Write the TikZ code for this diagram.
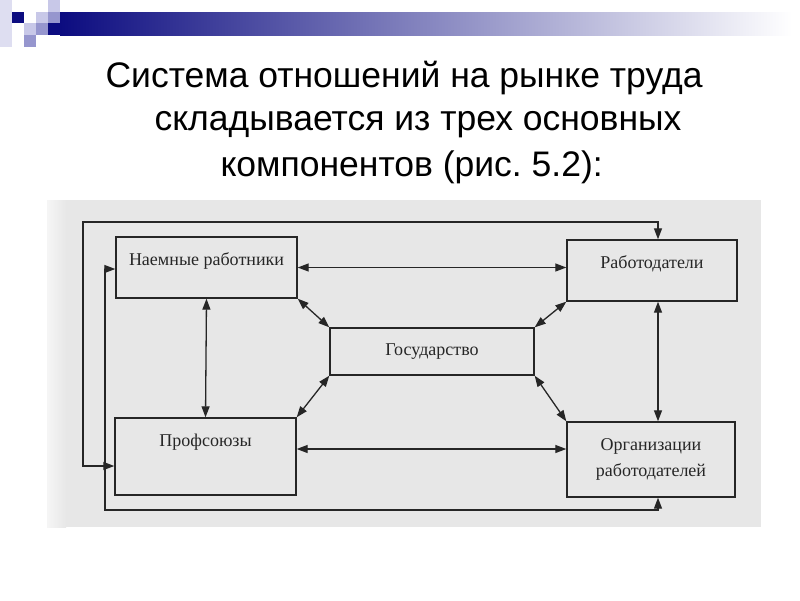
\documentclass[tikz,border=0pt]{standalone}
\usepackage{fontspec}
\setmainfont{Liberation Serif}
\newfontfamily\titlefont{Liberation Sans}
\usetikzlibrary{arrows.meta, calc}
\frenchspacing

\definecolor{navy}{RGB}{12,12,128}
\definecolor{lilac}{RGB}{200,200,232}
\definecolor{violet}{RGB}{150,150,206}
\definecolor{scan}{RGB}{231,231,231}
\definecolor{ink}{RGB}{38,38,38}

\begin{document}
\begin{tikzpicture}[x=1pt, y=-1pt,
    box/.style={draw=ink, line width=1.4pt, text=ink, align=center,
      font=\fontsize{18}{26}\selectfont},
    link/.style={ink, line width=1.3pt,
      {Triangle[length=11pt,width=8pt]}-{Triangle[length=11pt,width=8pt]}},
    titleline/.style={anchor=base west, font=\titlefont\fontsize{35.5}{42}\selectfont}]
  \useasboundingbox (0,0) rectangle (800,600);

  % Header squares and bar
  \fill[lilac!60] (0,0) rectangle (12,47);
  \fill[navy] (12,12) rectangle (24,23);
  \fill[lilac] (24,23) rectangle (36,35);
  \fill[violet] (24,35) rectangle (36,47);
  \fill[lilac] (36,12) rectangle (48,23);
  \fill[violet] (36,23) rectangle (48,35);
  \fill[lilac] (48,0) rectangle (60,12);
  \fill[violet] (48,12) rectangle (60,23);
  \fill[navy] (48,23) rectangle (60,35);
  \shade[left color=navy, right color=white] (60,12) rectangle (792,35);

  % Title
  \node[titleline] (t1) at (102,87) {Система отношений на рынке труда};
  \node[titleline] (t2) at (151,130) {складывается из трех основных};
  \node[titleline] (t3) at (217,176) {компонентов (рис. 5.2):};

  % Scanned figure background
  \fill[scan] (47,200) rectangle (761,527);
  \shade[left color=white!60!scan, right color=scan] (47,200) rectangle (66,527);

  % Boxes
  \node[box, minimum width=181pt, minimum height=61pt, text height=12pt, text depth=16pt]
    (workers) at (206.5,267.5) {Наемные работники};
  \node[box, minimum width=170pt, minimum height=61pt, text height=12pt, text depth=16pt]
    (employers) at (652,270.5) {Работодатели};
  \node[box, minimum width=204pt, minimum height=47pt] (state) at (432,351.5) {Государство};
  \node[box, minimum width=181pt, minimum height=77pt, text height=12pt, text depth=33pt]
    (unions) at (205.5,456.5) {Профсоюзы};
  \node[box, minimum width=168pt, minimum height=75pt] (emporg) at (651,459.5)
    {Организации\\работодателей};

  % Loop corners
  \coordinate (loopA) at (83,222);
  \coordinate (loopB) at (105,510);

  % Arrows
  \draw[link] (workers.east) -- (workers.east -| employers.west);
  \draw[link] (workers.south) -- (unions.north);
  \draw[link] ([xshift=6pt]employers.south) -- ([xshift=7pt]emporg.north);
  \draw[link] ([yshift=7.5pt]unions.east) -- ([yshift=7.5pt]unions.east -| emporg.west);
  \draw[link] (workers.south east) -- (state.north west);
  \draw[link] (employers.south west) -- (state.north east);
  \draw[link] (unions.north east) -- (state.south west);
  \draw[link] (emporg.north west) -- (state.south east);
  \draw[link] ([yshift=-9.5pt]unions.west) -| (loopA) -| ([xshift=6pt]employers.north);
  \draw[link] ([yshift=-1.5pt]workers.west) -| (loopB) -| ([xshift=7pt]emporg.south);
\end{tikzpicture}
\end{document}
